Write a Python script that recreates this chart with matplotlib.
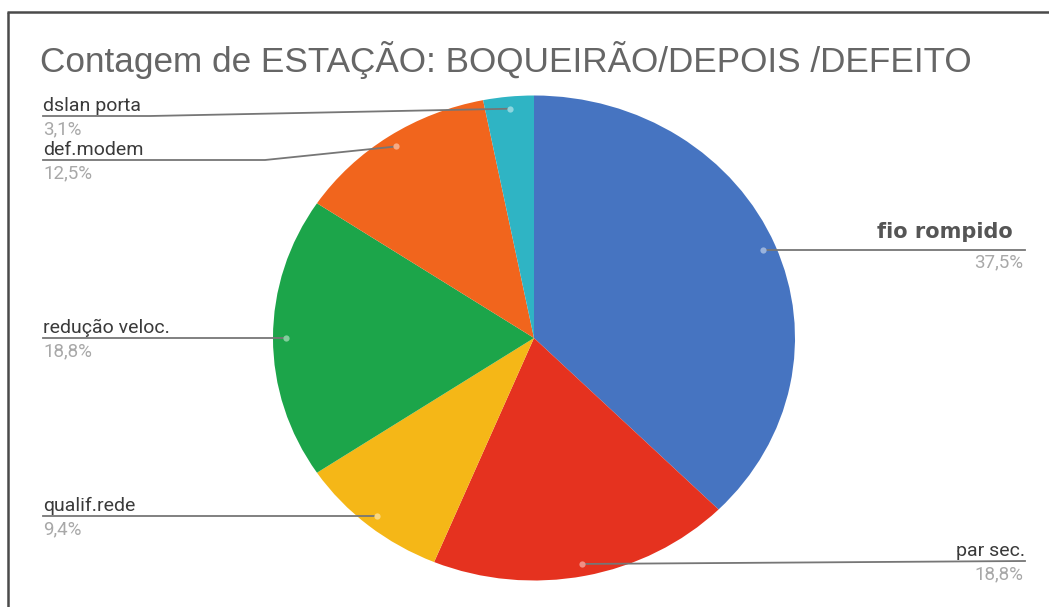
import numpy as np
import matplotlib
matplotlib.use("Agg")
import matplotlib.pyplot as plt
from matplotlib.colors import to_rgb

title = "Contagem de ESTAÇÃO: BOQUEIRÃO/DEPOIS /DEFEITO"
categories = ["fio rompido", "par sec.", "qualif.rede", "redução veloc.", "def.modem", "dslan porta"]
counts = [12, 6, 3, 6, 4, 1]
colors = ["#4674c1", "#e5321f", "#f5b717", "#1ca54a", "#f1651d", "#2fb4c4"]

W, H = 1049, 607
fig = plt.figure(figsize=(W / 100, H / 100), dpi=100)
fig.patch.set_facecolor("white")

# pie region (pixels): centre and horizontal / vertical radii
cx, cy, rx, ry = 534, 338, 261, 242.5
pax = fig.add_axes([(cx - rx) / W, (H - (cy + ry)) / H, 2 * rx / W, 2 * ry / H])
wedges, _ = pax.pie(counts, colors=colors, startangle=90, counterclock=False,
                    radius=1, wedgeprops=dict(linewidth=0))
pax.set_aspect("auto")
pax.set_xlim(-1, 1)
pax.set_ylim(-1, 1)
pax.axis("off")

# overlay in pixel coordinates for border, title and leader lines
ax = fig.add_axes([0, 0, 1, 1], zorder=3)
ax.set_xlim(0, W)
ax.set_ylim(H, 0)
ax.axis("off")
ax.patch.set_alpha(0)

border = "#4a4a4a"
ax.plot([8, 8], [12, H + 2], color=border, lw=1.8, solid_capstyle="butt")
ax.plot([7, W + 2], [12, 12], color=border, lw=1.8, solid_capstyle="butt")

ax.text(40, 72, title, fontsize=25.3, color="#666666", family="Liberation Sans",
        va="baseline", ha="left")

total = sum(counts)
# label placement: side, line y (None = level with the dot), elbow x
layout = {
    "fio rompido": ("right", None, None),
    "par sec.": ("right", 561, None),
    "qualif.rede": ("left", None, None),
    "redução veloc.": ("left", None, None),
    "def.modem": ("left", 160, 265),
    "dslan porta": ("left", 116, 150),
}

line_col = "#767676"
lab_col = "#3a3a3a"
pct_col = "#a8a8a8"
left_x, right_x = 43, 1025
lab_size, pct_size = 14, 13.5

for w, name, c, col in zip(wedges, categories, counts, colors):
    mid = np.deg2rad((w.theta1 + w.theta2) / 2)
    dx = cx + 0.95 * rx * np.cos(mid)
    dy = cy - 0.95 * ry * np.sin(mid)
    side, ly, elbow = layout[name]
    if ly is None:
        ly = dy
    pct = f"{100 * c / total:.1f}".replace(".", ",") + "%"
    if side == "left":
        ex = elbow if elbow is not None else dx
        ax.plot([dx, ex, left_x], [dy, ly, ly], color=line_col, lw=1.3)
        ax.text(left_x, ly - 5, name, fontsize=lab_size, color=lab_col, family="Roboto",
                ha="left", va="baseline")
        ax.text(left_x, ly + 4, pct, fontsize=pct_size, color=pct_col, family="Roboto",
                ha="left", va="top")
    else:
        ax.plot([dx, right_x, right_x], [dy, ly, ly], color=line_col, lw=1.3)
        bold = name == "fio rompido"
        ax.text(right_x - (12 if bold else 0), ly - (12 if bold else 5), name,
                fontsize=15 if bold else lab_size, color=lab_col if not bold else "#555555",
                family="DejaVu Sans" if bold else "Roboto",
                weight="bold" if bold else "normal", ha="right", va="baseline")
        ax.text(right_x - 2, ly + 4, pct, fontsize=pct_size, color=pct_col, family="Roboto",
                ha="right", va="top")
    light = tuple(0.55 * np.array(to_rgb(col)) + 0.45)
    ax.plot(dx, dy, "o", ms=4.5, color=light, mec="none")

fig.savefig("out.png", dpi=100, facecolor="white")
